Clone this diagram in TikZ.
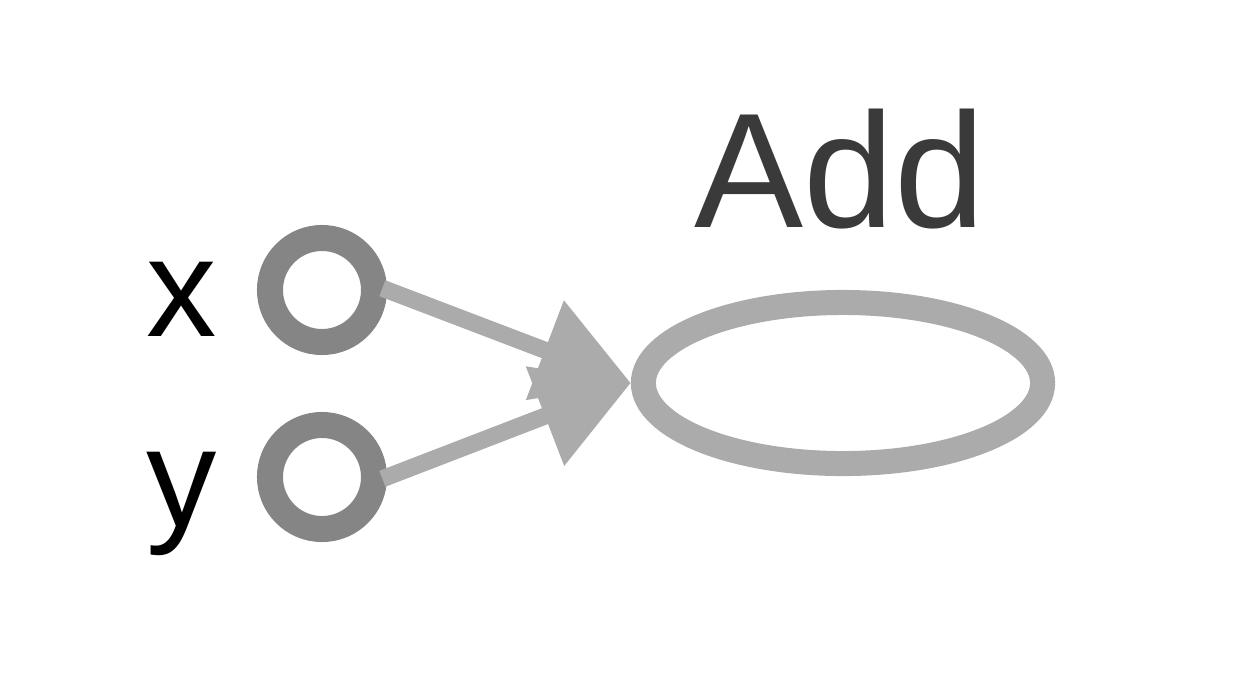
\documentclass[tikz,border=0pt]{standalone}
\usepackage{fontspec}
\setmainfont{Liberation Sans}
\usetikzlibrary{shapes.geometric, arrows.meta}

\definecolor{portgray}{HTML}{858585}
\definecolor{edgegray}{HTML}{ABABAB}
\definecolor{textgray}{HTML}{3A3A3A}

\begin{document}
\begin{tikzpicture}[x=0.01cm, y=-0.01cm,
    port/.style={circle, draw=portgray, line width=2.6mm, minimum size=10.4mm, inner sep=0pt},
    opnode/.style={ellipse, draw=edgegray, line width=2.5mm, minimum width=39.9mm, minimum height=16.1mm, inner sep=0pt},
    portlabel/.style={anchor=base, inner sep=0pt, font=\fontsize{40}{40}\selectfont},
    edge/.style={draw=edgegray, line width=1.7mm, -{Triangle[length=9.2mm, width=10.2mm]}, shorten <=-0.5mm}]
	\useasboundingbox (0,0) rectangle (1256,690);

	% inputs
	\node[port] (x) at (322, 290) {};
	\node[port] (y) at (322, 477) {};
	\node[portlabel] (xlabel) at (182, 336) {x};
	\node[portlabel] (ylabel) at (182, 526) {y};

	% operation
	\node[opnode] (add) at (843, 383) {};
	\node[anchor=base, inner sep=0pt, text=textgray, font=\fontsize{46.5}{48}\selectfont] (addlabel) at (840, 227) {Add};

	\draw[edge] (x.east) -- (add.west);
	\draw[edge] (y.east) -- (add.west);
\end{tikzpicture}
\end{document}
